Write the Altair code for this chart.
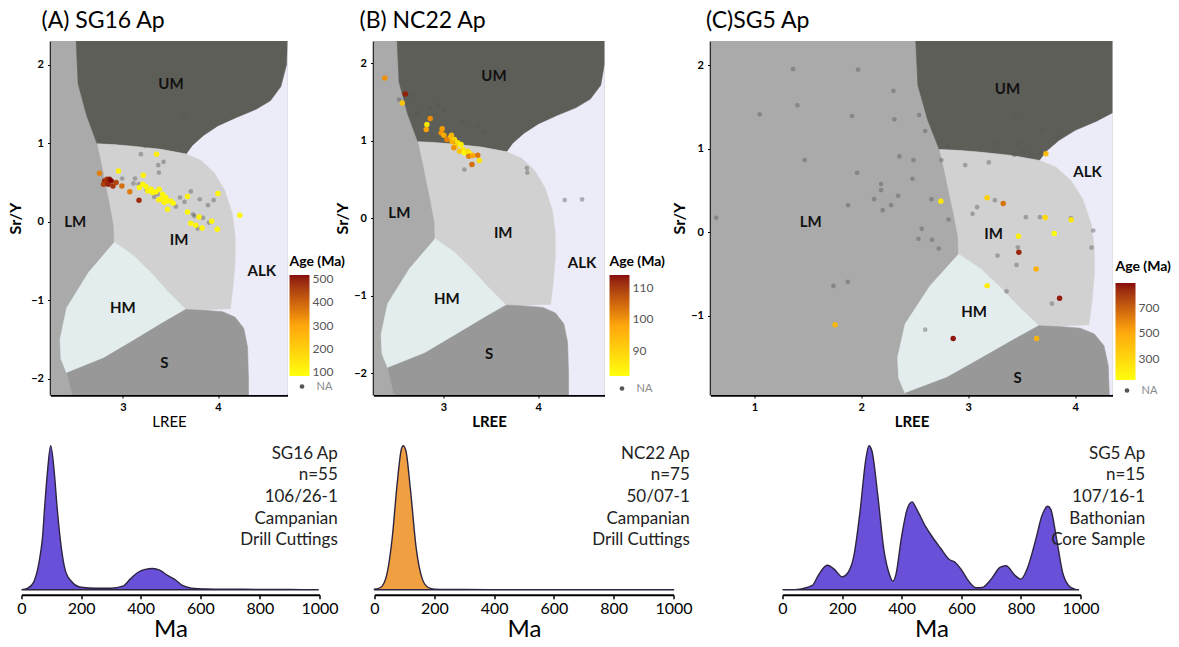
import altair as alt
import pandas as pd

FONT = "Lato"

# ---------------- classification fields in (LREE, Sr/Y) space ----------------
REGION_NAMES = ["LM", "ALK", "UM", "IM", "HM", "S"]
REGION_COLORS = ["#aaaaaa", "#ececf9", "#5e5e59", "#d1d1d1", "#e3eded", "#989898"]

LM_X = [0.0, 6.0, 6.0, 0.0]
LM_Y = [-3.0, -3.0, 3.0, 3.0]
ALK_X = [3.5, 6.0, 6.0, 3.5]
ALK_Y = [-3.0, -3.0, 3.0, 3.0]
UM_X = [2.51, 2.51, 2.53, 2.62, 2.73, 2.90, 3.10, 3.40, 3.665, 3.73, 3.85, 4.00, 4.20, 4.40, 4.55, 4.66, 4.72, 4.73, 4.73]
UM_Y = [3.00, 2.30, 1.76, 1.35, 0.99, 0.98, 0.96, 0.92, 0.86, 0.97, 1.10, 1.22, 1.33, 1.43, 1.54, 1.72, 2.00, 2.30, 3.00]
IM_X = [2.73, 2.90, 3.10, 3.40, 3.665, 3.82, 3.96, 4.07, 4.15, 4.18, 4.18, 4.16, 4.13, 3.90, 3.66,
        3.48, 3.31, 3.12, 2.91, 2.905, 2.86, 2.80]
IM_Y = [0.99, 0.98, 0.96, 0.92, 0.86, 0.78, 0.62, 0.40, 0.10, -0.20, -0.50, -0.80, -1.11, -1.12, -1.12,
        -0.90, -0.67, -0.44, -0.26, -0.05, 0.25, 0.60]
HM_X = [2.91, 3.12, 3.31, 3.48, 3.66, 3.42, 3.12, 2.80, 2.41, 2.35, 2.34, 2.41, 2.65]
HM_Y = [-0.26, -0.44, -0.67, -0.90, -1.12, -1.29, -1.51, -1.74, -1.93, -1.75, -1.50, -1.10, -0.63]
S_X = [2.41, 2.80, 3.12, 3.42, 3.66, 3.85, 4.05, 4.18, 4.27, 4.31, 4.32, 4.32, 2.50, 2.47]
S_Y = [-1.93, -1.74, -1.51, -1.29, -1.12, -1.13, -1.15, -1.22, -1.36, -1.60, -2.00, -3.00, -3.00, -2.25]

REGION_X = [LM_X, ALK_X, UM_X, IM_X, HM_X, S_X]
REGION_Y = [LM_Y, ALK_Y, UM_Y, IM_Y, HM_Y, S_Y]

FIELD_LABELS = ["UM", "LM", "IM", "ALK", "HM", "S"]
A_LAB_X = [3.505, 2.50, 3.59, 4.46, 3.00, 3.435]
A_LAB_Y = [1.75, 0.00, -0.23, -0.63, -1.10, -1.80]
B_LAB_X = [3.533, 2.533, 3.63, 4.463, 3.035, 3.48]
B_LAB_Y = [1.834, 0.073, -0.184, -0.571, -1.044, -1.753]
C_LAB_X = [3.368, 1.527, 3.237, 4.117, 3.056, 3.462]
C_LAB_Y = [1.72, 0.128, -0.02, 0.72, -0.96, -1.75]

# ---------------- apatite analyses ----------------
# (A) SG16 Ap
A_NA_X = [2.755, 3.19, 3.236, 3.372, 3.428, 3.379, 2.993, 3.128, 3.111, 3.167, 3.25, 3.366, 3.33, 3.557,
          3.60, 3.648, 3.714, 3.808, 3.895, 3.954, 3.738, 3.752, 3.842, 3.905, 3.787, 3.644]
A_NA_Y = [1.04, 0.858, 0.965, 0.718, 0.76, 0.625, 0.548, 0.548, 0.485, 0.476, 0.40, 0.348, 0.314, 0.19,
          0.306, 0.25, 0.383, 0.284, 0.208, 0.272, 0.093, 0.07, 0.046, -0.013, -0.09, 1.34]
A_X = [2.755, 2.954, 3.215, 3.355, 2.808, 2.833, 2.86, 2.878, 2.896, 2.93, 2.797, 2.846, 2.99, 3.073, 3.17,
       3.173, 3.243, 3.261, 3.296, 3.313, 3.348, 3.383, 3.418, 3.40, 3.452, 3.435, 3.47, 3.505, 3.529, 3.47,
       3.376, 3.209, 3.679, 3.679, 3.999, 3.933, 3.80, 3.714, 3.766, 3.832, 3.993, 4.229]
A_Y = [0.616, 0.645, 0.59, 0.858, 0.518, 0.54, 0.54, 0.518, 0.454, 0.497, 0.476, 0.476, 0.454, 0.378, 0.272,
       0.434, 0.446, 0.39, 0.412, 0.37, 0.378, 0.412, 0.348, 0.284, 0.306, 0.242, 0.263, 0.263, 0.233, 0.157,
       0.276, 0.476, 0.319, 0.123, 0.357, 0.004, 0.059, -0.022, -0.047, -0.081, -0.098, 0.08]
A_AGE = [350, 120, 110, 120, 480, 460, 500, 520, 470, 440, 450, 490, 380, 360, 480,
         100, 105, 110, 100, 115, 100, 105, 100, 110, 100, 105, 100, 110, 100, 105, 120, 100,
         110, 100, 105, 100, 115, 100, 105, 100, 100, 105]

# (B) NC22 Ap
B_NA_X = [2.53, 2.666, 2.722, 2.859, 2.943, 3.01, 3.203, 3.361, 3.414, 3.22, 3.88, 3.885, 4.28, 4.463]
B_NA_Y = [1.533, 1.585, 1.357, 1.426, 1.46, 1.40, 1.246, 1.195, 1.12, 0.63, 0.65, 0.59, 0.236, 0.245]
B_X = [2.379, 2.596, 2.564, 2.859, 2.824, 2.817, 2.985, 2.975, 3.003, 3.07, 3.116, 3.09, 3.15, 3.126,
       3.185, 3.203, 3.108, 3.168, 3.22, 3.256, 3.28, 3.266, 3.308, 3.361, 3.379, 3.30, 3.084, 3.035]
B_Y = [1.813, 1.607, 1.49, 1.289, 1.211, 1.147, 1.156, 1.104, 1.073, 1.04, 1.018, 0.988, 0.975, 0.932,
       0.954, 0.889, 0.911, 0.867, 0.846, 0.867, 0.834, 0.803, 0.812, 0.816, 0.747, 0.696, 1.073, 1.018]
B_AGE = [100, 112, 92, 100, 85, 97, 98, 99, 96, 92, 88, 95, 86, 90,
         84, 86, 100, 92, 83, 88, 85, 102, 98, 103, 87, 104, 94, 101]

# (C) SG5 Ap
C_NA_X = [0.644, 1.05, 1.362, 1.403, 1.471, 1.97, 1.914, 1.961, 1.877, 2.12, 2.186, 2.186, 2.201, 2.279,
          2.345, 2.301, 2.31, 2.357, 2.488, 2.479, 2.541, 2.598, 2.657, 2.566, 2.535, 2.663, 2.725, 2.816,
          2.75, 2.81, 2.972, 3.193, 3.041, 3.084, 3.25, 3.275, 3.465, 3.452, 3.54, 3.671, 3.961, 4.17,
          4.154, 3.783, 3.359, 2.598, 1.74, 1.874, 3.44, 3.25, 3.471, 3.43, 3.524, 3.571, 3.696, 3.674, 3.846]
C_NA_Y = [0.172, 1.412, 1.952, 1.52, 0.864, 1.948, 1.392, 0.712, 0.324, 0.396, 0.576, 0.504, 0.264, 0.324,
          0.436, 1.692, 1.352, 0.908, 0.864, 0.64, 1.404, 1.212, 0.396, 0.04, -0.08, -0.092, -0.196, 0.152,
          0.864, 1.036, 0.804, 0.836, 0.22, 0.3, 0.384, -0.28, -0.18, -0.392, 0.18, 0.18, 0.168, 0.02,
          -0.184, -0.856, -0.708, -1.168, -0.644, -0.596, 1.412, 1.068, 1.056, 0.928, 0.968, 0.92, 1.22, 0.94, 1.14]
C_X = [3.727, 2.744, 3.178, 3.328, 3.471, 3.474, 3.636, 3.72, 3.805, 3.964, 3.855, 3.178, 2.86, 1.755, 3.64]
C_Y = [0.94, 0.372, 0.412, 0.344, -0.048, -0.24, -0.44, 0.176, -0.016, 0.148, -0.792, -0.64, -1.272, -1.108, -1.272]
C_AGE = [420, 220, 330, 650, 200, 850, 460, 280, 150, 230, 870, 210, 880, 430, 440]

AGE_COLORS = ["#ffff00", "#ffa200", "#820000"]

# ---------------- age spectra (normalised density) ----------------
A_MA = [0, 20, 40, 55, 65, 70, 78, 87, 98, 110, 119, 130, 149, 171, 200, 250, 300, 340, 365, 390, 415,
        440, 465, 490, 513, 540, 570, 620, 700, 800, 900, 995]
A_DEN = [0.0, 0.01, 0.05, 0.15, 0.27, 0.352, 0.583, 0.815, 1.0, 0.815, 0.583, 0.352, 0.121, 0.051, 0.018,
         0.011, 0.011, 0.025, 0.074, 0.12, 0.142, 0.148, 0.135, 0.10, 0.074, 0.03, 0.012, 0.006, 0.004,
         0.003, 0.002, 0.001]
B_MA = [0, 20, 40, 60, 75, 90, 96, 105, 120, 140, 160, 180, 200, 300, 500, 700, 1000]
B_DEN = [0.005, 0.016, 0.097, 0.375, 0.72, 0.977, 1.0, 0.965, 0.70, 0.28, 0.074, 0.016, 0.005, 0.002,
         0.001, 0.001, 0.001]
C_MA = [0, 50, 100, 120, 150, 175, 200, 220, 240, 260, 280, 290, 300, 320, 340, 360, 370, 380, 400, 420,
        435, 450, 480, 500, 530, 560, 580, 600, 620, 650, 670, 700, 730, 750, 780, 800, 820, 850, 870, 890,
        900, 920, 940, 960, 980, 995]
C_DEN = [0.0, 0.003, 0.03, 0.10, 0.17, 0.14, 0.09, 0.12, 0.24, 0.54, 0.91, 1.0, 0.965, 0.65, 0.28, 0.10,
         0.06, 0.10, 0.375, 0.57, 0.61, 0.56, 0.44, 0.375, 0.29, 0.21, 0.19, 0.14, 0.074, 0.014, 0.016,
         0.074, 0.155, 0.167, 0.10, 0.074, 0.14, 0.35, 0.51, 0.58, 0.56, 0.35, 0.12, 0.03, 0.005, 0.0]

A_INFO = ["SG16 Ap", "n=55", "106/26-1", "Campanian", "Drill Cuttings"]
B_INFO = ["NC22 Ap", "n=75", "50/07-1", "Campanian", "Drill Cuttings"]
C_INFO = ["SG5 Ap", "n=15", "107/16-1", "Bathonian", "Core Sample"]

TOP_H = 354
BOT_H = 149

INDEP = dict(color="independent", shape="independent", x="independent", y="independent")
INDEP_LEG = dict(color="independent", shape="independent")


def top_panel(title, dx, xdom, ydom, xticks, yticks, width, lab_x, lab_y,
              na_x, na_y, px, py, age, age_dom, age_vals,
              xtitle_weight, ytitle_pad, lx, ly, glen, tpad, nx, ny):
    xs = alt.Scale(domain=xdom, nice=False, zero=False, clamp=True)
    ys = alt.Scale(domain=ydom, nice=False, zero=False, clamp=True)
    common = dict(domainColor="black", domainWidth=2.5, tickColor="black", tickSize=3,
                  labelFont=FONT, labelFontSize=11, labelFontWeight="bold", labelColor="black",
                  titleFont=FONT, titleColor="black", grid=False, labelFlush=False, labelOverlap=False)
    xax = alt.Axis(values=xticks, title="LREE", titleFontSize=15, titleFontWeight=xtitle_weight,
                   labelPadding=3, titlePadding=2, **common)
    yax = alt.Axis(values=yticks, title="Sr/Y", titleFontSize=16, titleFontWeight="bold",
                   labelPadding=4, titlePadding=ytitle_pad, **common)
    X = alt.X("x:Q", scale=xs, axis=xax)
    Y = alt.Y("y:Q", scale=ys, axis=yax)
    layers = []
    for rx, ry, col in zip(REGION_X, REGION_Y, REGION_COLORS):
        df = pd.DataFrame({"x": rx, "y": ry, "o": list(range(len(rx)))})
        layers.append(
            alt.Chart(df).mark_line(fill=col, stroke=col, strokeWidth=0.6, clip=True)
            .encode(x=X, y=Y, order="o:Q")
        )
    lab = pd.DataFrame({"x": lab_x, "y": lab_y, "t": FIELD_LABELS})
    layers.append(
        alt.Chart(lab).mark_text(font=FONT, fontSize=15, fontWeight="bold", color="#111111")
        .encode(x=X, y=Y, text="t:N")
    )
    na = pd.DataFrame({"x": na_x, "y": na_y, "k": ["NA"] * len(na_x)})
    layers.append(
        alt.Chart(na).mark_point(filled=True, size=22, color="#555555", opacity=0.42, clip=True)
        .encode(x=X, y=Y,
                shape=alt.Shape("k:N", scale=alt.Scale(range=["circle"]),
                                legend=alt.Legend(title=None, orient="none", legendX=nx, legendY=ny,
                                                  symbolSize=22, symbolFillColor="#999999",
                                                  symbolStrokeWidth=0, symbolOpacity=1,
                                                  labelFont=FONT, labelFontSize=11,
                                                  labelColor="#888888", labelOffset=9)))
    )
    pts = pd.DataFrame({"x": px, "y": py, "age": age})
    layers.append(
        alt.Chart(pts).mark_point(filled=True, size=30, opacity=0.95, clip=True)
        .encode(x=X, y=Y,
                color=alt.Color("age:Q",
                                scale=alt.Scale(domain=age_dom, range=AGE_COLORS),
                                legend=alt.Legend(title="Age (Ma)", orient="none", legendX=lx, legendY=ly,
                                                  direction="vertical", gradientLength=glen,
                                                  gradientThickness=20, gradientStrokeWidth=0,
                                                  values=age_vals, titleFont=FONT, titleFontSize=14,
                                                  titleFontWeight="bold", titleColor="black",
                                                  titlePadding=tpad, labelFont=FONT, labelFontSize=12,
                                                  labelColor="#555555", labelOffset=3)))
    )
    return alt.layer(*layers).properties(
        width=width, height=TOP_H,
        title=alt.TitleParams(title, anchor="start", frame="group", dx=dx, fontSize=23, font=FONT,
                              fontWeight="normal", color="black", baseline="alphabetic", offset=-10),
    )


def bottom_panel(ma, den, fill, info, width, text_x):
    xs = alt.Scale(domain=[0, 1000], nice=False, zero=False)
    ys = alt.Scale(domain=[-0.034, 1.0], nice=False, zero=False)
    ax = alt.Axis(values=[0, 200, 400, 600, 800, 1000], format="d", title="Ma", titleFont=FONT,
                  titleFontSize=24, titleFontWeight="normal", titleColor="black", titlePadding=1,
                  labelFont=FONT, labelFontSize=16, labelColor="black", labelPadding=2, labelFlush=False,
                  labelOverlap=False, domainColor="black", domainWidth=2, tickColor="black",
                  tickWidth=1.5, tickSize=4, grid=False)
    df = pd.DataFrame({"ma": ma, "d": den})
    area = alt.Chart(df).mark_area(fill=fill, fillOpacity=1, stroke="#2e2440", strokeWidth=1.4,
                                   interpolate="monotone").encode(
        x=alt.X("ma:Q", scale=xs, axis=ax),
        y=alt.Y("d:Q", scale=ys, axis=None),
        y2=alt.datum(0),
    )
    txt = alt.Chart(pd.DataFrame({"t": [0]})).mark_text(
        align="right", baseline="top", font=FONT, fontSize=17, lineHeight=21.7, color="#222222"
    ).encode(x=alt.value(text_x), y=alt.value(0), text=alt.value(info))
    return alt.layer(area, txt).properties(width=width, height=BOT_H)


def spacer(w, h):
    return alt.Chart(pd.DataFrame({"s": [0]})).mark_point(opacity=0, size=1).encode(
        x=alt.value(0), y=alt.value(0)).properties(width=w, height=h)


topA = top_panel("(A) SG16 Ap", -9, [2.24, 4.73], [-2.21, 2.30], [3, 4], [-2, -1, 0, 1, 2], 237,
                 A_LAB_X, A_LAB_Y, A_NA_X, A_NA_Y, A_X, A_Y, A_AGE, [83, 517], [100, 200, 300, 400, 500],
                 "normal", 7, 239, 214, 101, 6, 246, 340)
topB = top_panel("(B) NC22 Ap", -14, [2.26, 4.70], [-2.28, 2.29], [3, 4], [-2, -1, 0, 1, 2], 231,
                 B_LAB_X, B_LAB_Y, B_NA_X, B_NA_Y, B_X, B_Y, B_AGE, [82, 114], [90, 100, 110],
                 "bold", 3, 236, 214, 101, 6, 243, 342)
topC = top_panel("(C)SG5 Ap", -4.5, [0.59, 4.35], [-1.95, 2.29], [1, 2, 3, 4], [-1, 0, 1, 2], 402,
                 C_LAB_X, C_LAB_Y, C_NA_X, C_NA_Y, C_X, C_Y, C_AGE, [133, 898], [300, 500, 700],
                 "bold", 3, 405, 219, 97, 9, 411, 344)

botA = bottom_panel(A_MA, A_DEN, "#6a50d8", A_INFO, 298, 316.3)
botB = bottom_panel(B_MA, B_DEN, "#f0a040", B_INFO, 299, 315.3)
botC = bottom_panel(C_MA, C_DEN, "#6a50d8", C_INFO, 298, 362.7)

top_row = alt.hconcat(spacer(29, TOP_H), topA, spacer(86, TOP_H), topB, spacer(106, TOP_H), topC,
                      spacing=0, bounds="flush").resolve_scale(**INDEP).resolve_legend(**INDEP_LEG)
bot_row = alt.hconcat(botA, spacer(55, BOT_H), botB, spacer(109, BOT_H), botC,
                      spacing=0, bounds="flush").resolve_scale(**INDEP).resolve_legend(**INDEP_LEG)

chart = alt.vconcat(top_row, bot_row, spacing=404.7, bounds="flush"
).resolve_scale(**INDEP).resolve_legend(**INDEP_LEG
).properties(padding={"left": 7.5, "top": 10, "right": 0, "bottom": 0}
).configure_view(strokeWidth=0)

chart.save("out.html", embed_options={"renderer": "svg", "actions": False})
